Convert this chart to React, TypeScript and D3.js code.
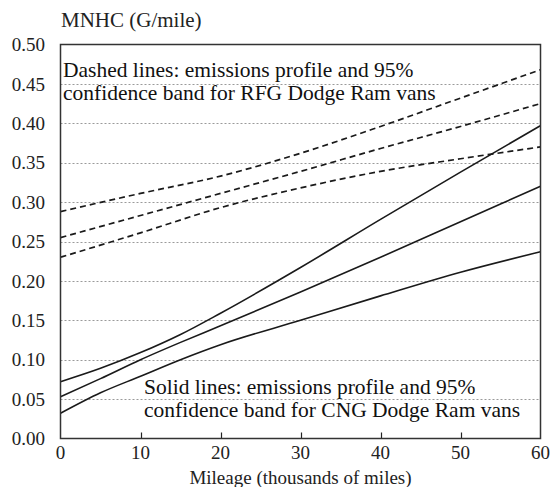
import React, { useEffect, useRef } from 'react';
import * as d3 from 'd3';

// mileage in thousands of miles
const mileage = [0, 10, 20, 30, 40, 50, 60];
const mileageFine = [0, 5, 10, 15, 20, 30, 40, 50, 60];

// RFG Dodge Ram vans (dashed): upper band, profile, lower band
const rfgUpper = [0.288, 0.311, 0.333, 0.362, 0.396, 0.432, 0.468];
const rfgProfile = [0.255, 0.283, 0.311, 0.339, 0.368, 0.396, 0.425];
const rfgLower = [0.23, 0.261, 0.293, 0.318, 0.339, 0.355, 0.37];

// CNG Dodge Ram vans (solid)
const cngUpper = [0.072, 0.089, 0.109, 0.132, 0.159, 0.217, 0.278, 0.338, 0.397];
const cngProfile = [0.053, 0.076, 0.1, 0.122, 0.143, 0.186, 0.23, 0.275, 0.32];
const cngLower = [0.032, 0.058, 0.079, 0.1, 0.119, 0.15, 0.181, 0.211, 0.237];

const yTicks = [0, 0.05, 0.1, 0.15, 0.2, 0.25, 0.3, 0.35, 0.4, 0.45, 0.5];
const xTicks = [0, 10, 20, 30, 40, 50, 60];

const W = 553;
const H = 487;
const FONT = '"Liberation Serif", "DejaVu Serif", serif';

const App = () => {
    const svgRef = useRef<SVGSVGElement>(null);

    useEffect(() => {
        const svg = d3.select(svgRef.current);
        svg.selectAll('*').remove();

        const x = d3.scaleLinear().domain([0, 60]).range([60.5, 540.5]);
        const y = d3.scaleLinear().domain([0, 0.5]).range([438.5, 44.5]);

        // gridlines
        svg.append('g')
            .selectAll('line')
            .data(yTicks.slice(1, -1))
            .join('line')
            .attr('x1', x(0))
            .attr('x2', x(60))
            .attr('y1', d => Math.round(y(d)) + 0.5)
            .attr('y2', d => Math.round(y(d)) + 0.5)
            .attr('stroke', '#9a9a9a')
            .attr('stroke-width', 1)
            .attr('stroke-dasharray', '2,2');

        // y tick labels
        svg.append('g')
            .selectAll('text')
            .data(yTicks)
            .join('text')
            .attr('x', 45)
            .attr('y', d => y(d))
            .attr('dy', '0.35em')
            .attr('text-anchor', 'end')
            .attr('font-family', FONT)
            .attr('font-size', 19)
            .attr('fill', '#222')
            .text(d => d3.format('.2f')(d));

        // x ticks (inside) and labels
        svg.append('g')
            .selectAll('line')
            .data(xTicks.slice(1, -1))
            .join('line')
            .attr('x1', d => Math.round(x(d)) + 0.5)
            .attr('x2', d => Math.round(x(d)) + 0.5)
            .attr('y1', y(0))
            .attr('y2', y(0) - 6)
            .attr('stroke', '#222')
            .attr('stroke-width', 1.2);

        svg.append('g')
            .selectAll('text')
            .data(xTicks)
            .join('text')
            .attr('x', d => x(d))
            .attr('y', 459)
            .attr('text-anchor', 'middle')
            .attr('font-family', FONT)
            .attr('font-size', 19)
            .attr('fill', '#222')
            .text(d => d);

        const line = (xs: number[]) => d3.line<number>()
            .x((_, i) => x(xs[i]))
            .y(d => y(d))
            .curve(d3.curveMonotoneX);

        [rfgUpper, rfgProfile, rfgLower].forEach(s => {
            svg.append('path')
                .attr('d', line(mileage)(s))
                .attr('fill', 'none')
                .attr('stroke', '#1a1a1a')
                .attr('stroke-width', 1.7)
                .attr('stroke-dasharray', '6,4');
        });

        [cngUpper, cngProfile, cngLower].forEach(s => {
            svg.append('path')
                .attr('d', line(mileageFine)(s))
                .attr('fill', 'none')
                .attr('stroke', '#1a1a1a')
                .attr('stroke-width', 1.6);
        });

        // frame
        svg.append('rect')
            .attr('x', x(0))
            .attr('y', y(0.5))
            .attr('width', x(60) - x(0))
            .attr('height', y(0) - y(0.5))
            .attr('fill', 'none')
            .attr('stroke', '#333')
            .attr('stroke-width', 1.5);

        // titles
        svg.append('text')
            .attr('x', 61)
            .attr('y', 26.5)
            .attr('font-family', FONT)
            .attr('font-size', 21)
            .attr('fill', '#222')
            .text('MNHC (G/mile)');

        svg.append('text')
            .attr('x', (x(0) + x(60)) / 2)
            .attr('y', 484)
            .attr('text-anchor', 'middle')
            .attr('font-family', FONT)
            .attr('font-size', 19)
            .attr('fill', '#222')
            .text('Mileage (thousands of miles)');

        const note = (tx: number, ty: number, lines: string[]) => {
            const t = svg.append('text')
                .attr('font-family', FONT)
                .attr('font-size', 21.5)
                .attr('fill', '#111');
            lines.forEach((l, i) => {
                t.append('tspan').attr('x', tx).attr('y', ty + i * 23).text(l);
            });
        };

        note(63, 77, ['Dashed lines: emissions profile and 95%', 'confidence band for RFG Dodge Ram vans']);
        note(144, 394, ['Solid lines: emissions profile and 95%', 'confidence band for CNG Dodge Ram vans']);
    }, []);

    return (
        <svg
            ref={svgRef}
            width={W}
            height={H}
            style={{ position: 'absolute', left: 0, top: 0, background: '#fff' }}
        />
    );
};

export default App;
